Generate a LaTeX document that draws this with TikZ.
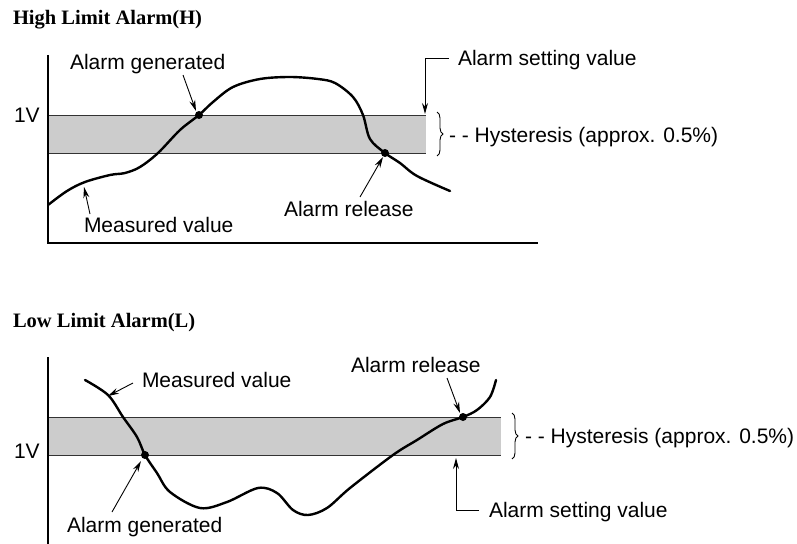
\documentclass[tikz,border=0pt]{standalone}
\usepackage{fontspec}
\setmainfont{Liberation Sans}
\newfontfamily\titlefont{Liberation Serif}
\usetikzlibrary{arrows.meta,decorations.pathreplacing}
\tikzset{
  lbl/.style={anchor=base west,inner sep=0pt,outer sep=0pt,font=\fontsize{21}{25}\selectfont},
  ttl/.style={anchor=base west,inner sep=0pt,outer sep=0pt,font=\titlefont\bfseries\fontsize{20.5}{24}\selectfont},
  band/.style={fill=black!20,draw=none},
  bandline/.style={line width=1pt,draw=black!80},
  axis/.style={line width=1.2pt},
  meas/.style={line width=2.4pt,line join=round,line cap=round},
  ptr/.style={line width=0.9pt,-{Stealth[length=11pt,width=6pt]}},
  brc/.style={line width=0.9pt,decorate,decoration={brace,amplitude=6pt}},
  dotmark/.style={circle,fill=black,inner sep=0pt,minimum size=8pt}
}
\begin{document}
\begin{tikzpicture}[x=1pt,y=-1pt]
\useasboundingbox (0,0) rectangle (797,543);
% ---------- High limit ----------
\node[ttl] (th) at (13,24.3) {High Limit Alarm(H)};
\fill[band] (48,115) rectangle (426,153);
\draw[bandline] (48,115) -- (426,115);
\draw[bandline] (48,153) -- (426,153);
\draw[axis] (48,55) -- (48,243) -- (538,243);
\node[lbl] (v1) at (14,122) {1V};
\draw[meas] plot[smooth,tension=0.55] coordinates {
 (48,205) (67,191) (85,182) (110,175) (125,173) (140,167) (158,153) (180,130) (199,115)
 (213,102) (233,87) (260,79) (290,77) (318,79) (335,83) (353,97) (363,115) (370,139) (385,153)
 (400,163) (417,176) (450,191)};
\coordinate (hg) at (199,115);
\coordinate (hr) at (385,153);
\node[dotmark] (hgd) at (hg) {};
\node[dotmark] (hrd) at (hr) {};
\node[lbl] (hgt) at (70,70) {Alarm generated};
\coordinate (hga) at (183,75);
\coordinate (hgb) at (196,111);
\draw[ptr] (hga) -- (hgb);
\node[lbl] (hmt) at (84,232) {Measured value};
\coordinate (hma) at (90,214);
\coordinate (hmb) at (84,187);
\draw[ptr] (hma) -- (hmb);
\node[lbl] (hrt) at (284,216) {Alarm release};
\coordinate (hra) at (360,197);
\coordinate (hrb) at (383,157);
\draw[ptr] (hra) -- (hrb);
\node[lbl] (hst) at (458,65) {Alarm setting value};
\coordinate (hsa) at (449,58);
\coordinate (hsb) at (425,114);
\draw[ptr] (hsa) -- (hsb |- hsa) -- (hsb);
\coordinate (hb1) at (437,112);
\coordinate (hb2) at (437,156);
\draw[brc] (hb1) -- (hb2);
\node[lbl] (hht) at (449,142) {- - Hysteresis (approx. 0.5\%)};
% ---------- Low limit ----------
\node[ttl] (tl) at (13,327) {Low Limit Alarm(L)};
\fill[band] (48,417) rectangle (501,455);
\draw[bandline] (48,417) -- (501,417);
\draw[bandline] (48,455) -- (501,455);
\draw[axis] (48,357) -- (48,545);
\node[lbl] (v2) at (14,458) {1V};
\draw[meas] plot[smooth,tension=0.55] coordinates {
 (85,380) (108,395) (123,417) (137,437) (145,455) (157,473) (170,492) (200,508) (227,502)
 (258,488) (277,493) (293,510) (308,515) (327,508) (350,488) (393,455) (417,440) (443,424)
 (463,417) (477,410) (490,397) (496,380)};
\coordinate (lg) at (145,455);
\coordinate (lr) at (463,417);
\node[dotmark] (lgd) at (lg) {};
\node[dotmark] (lrd) at (lr) {};
\node[lbl] (lmt) at (142,387) {Measured value};
\coordinate (lma) at (133,383);
\coordinate (lmb) at (108,396);
\draw[ptr] (lma) -- (lmb);
\node[lbl] (lgt) at (67,532) {Alarm generated};
\coordinate (lga) at (112,512);
\coordinate (lgb) at (141,461);
\draw[ptr] (lga) -- (lgb);
\node[lbl] (lrt) at (351,372) {Alarm release};
\coordinate (lra) at (447,378);
\coordinate (lrb) at (460,413);
\draw[ptr] (lra) -- (lrb);
\node[lbl] (lst) at (489,517) {Alarm setting value};
\coordinate (lsa) at (479,510);
\coordinate (lsb) at (456,458);
\draw[ptr] (lsa) -- (lsb |- lsa) -- (lsb);
\coordinate (lb1) at (512,413);
\coordinate (lb2) at (512,459);
\draw[brc] (lb1) -- (lb2);
\node[lbl] (lht) at (525,443.5) {- - Hysteresis (approx. 0.5\%)};
\end{tikzpicture}
\end{document}
